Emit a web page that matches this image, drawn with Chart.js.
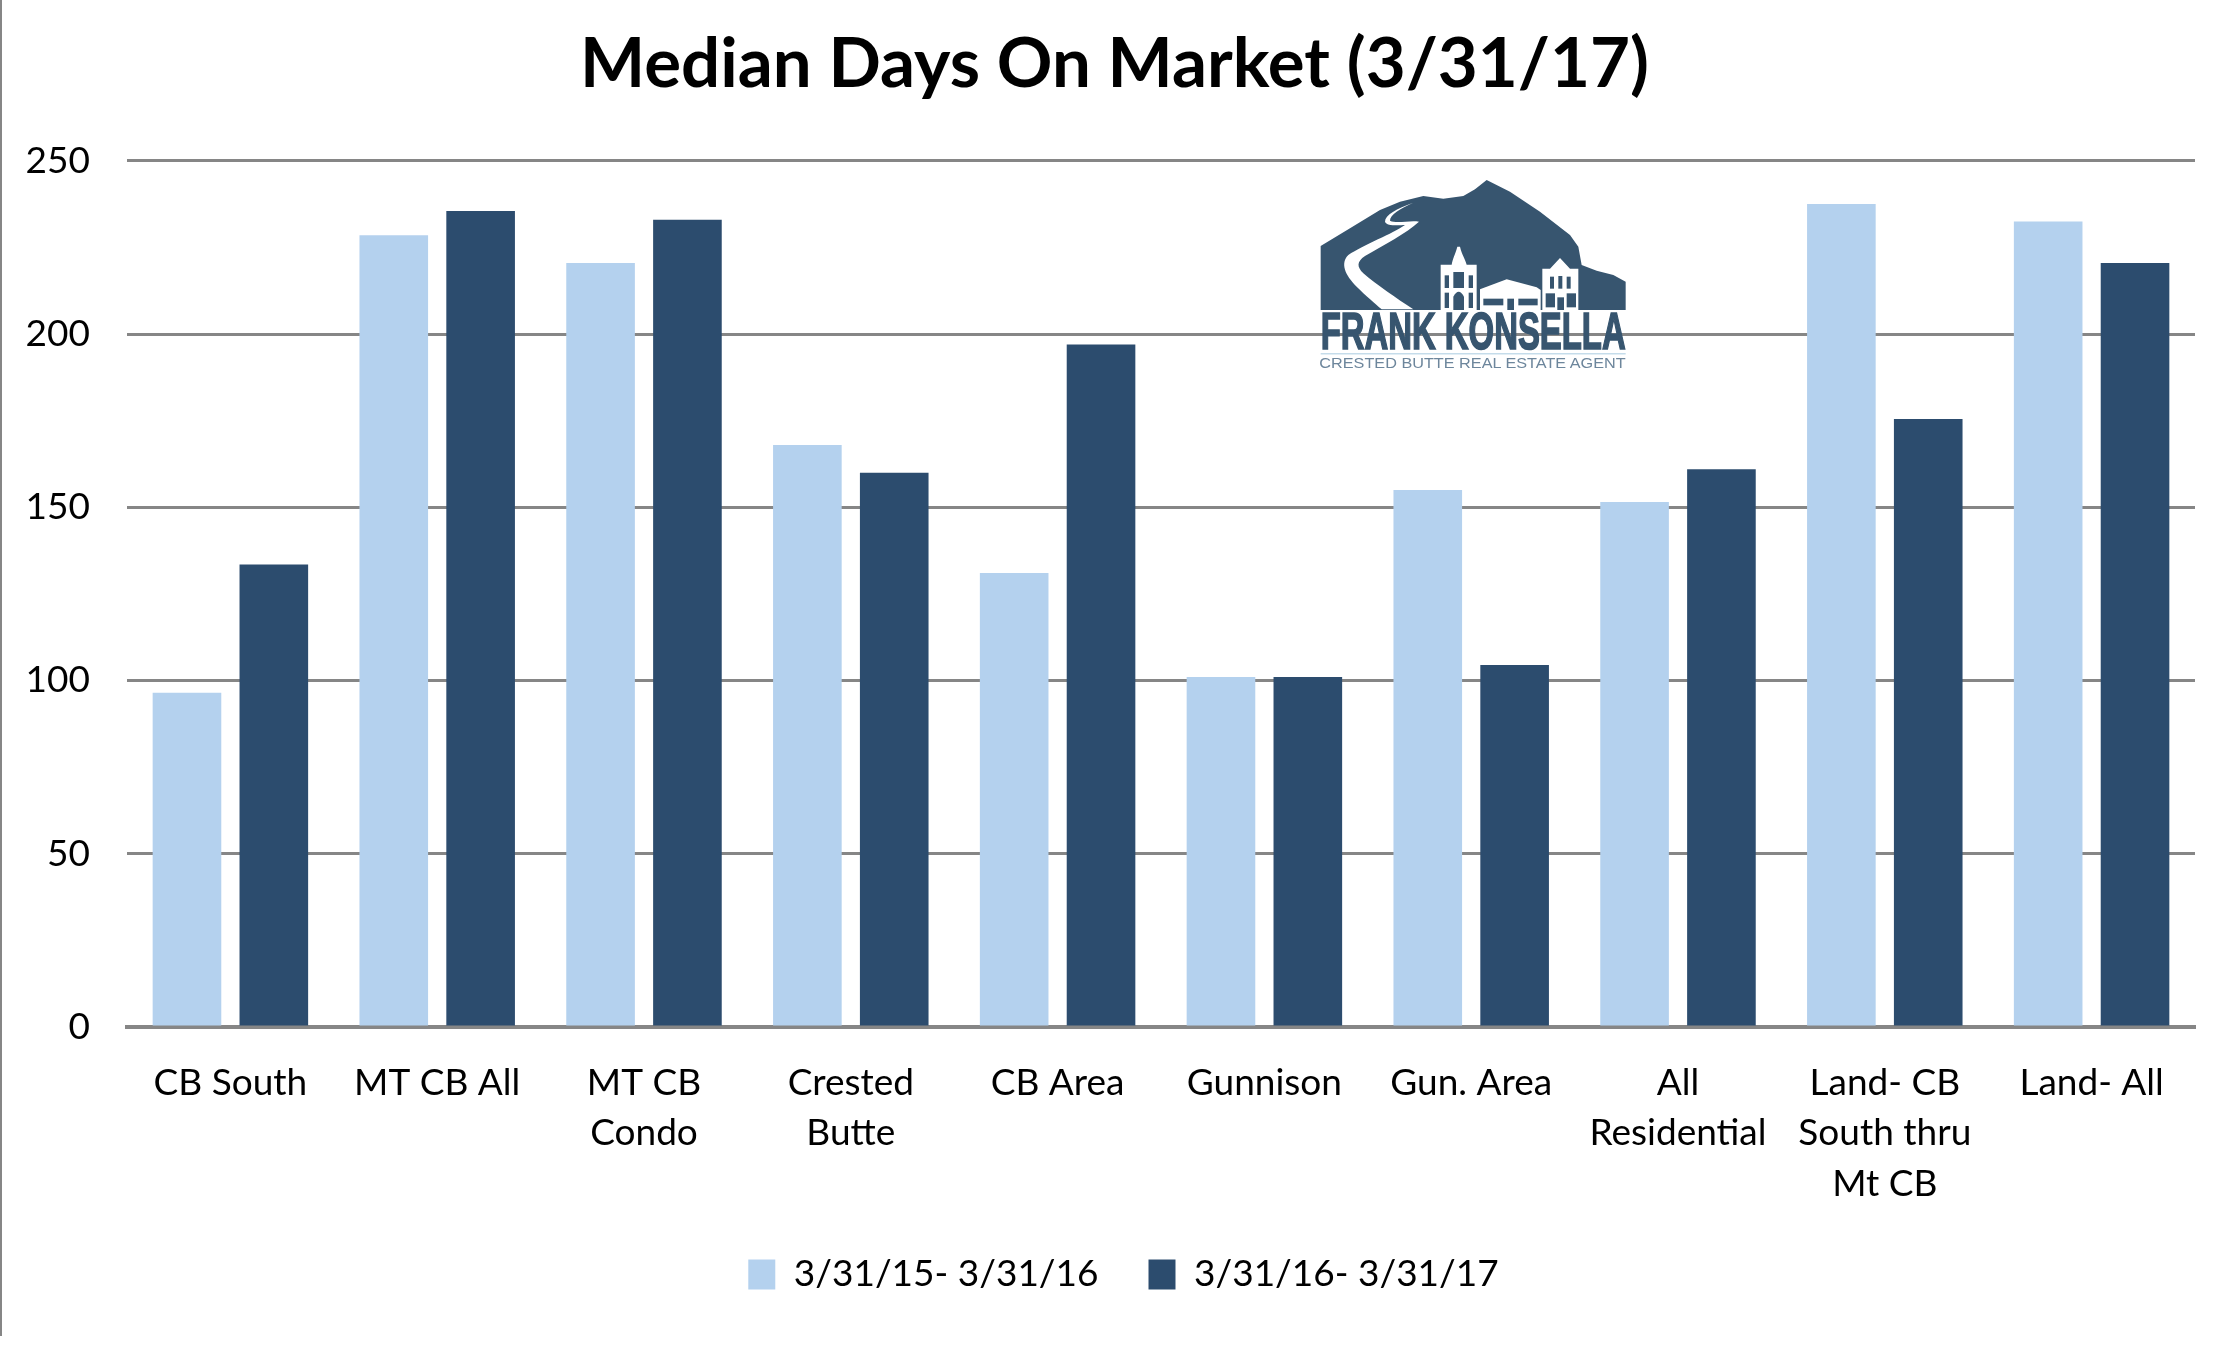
<!DOCTYPE html>
<html>
<head>
<meta charset="utf-8">
<title>Median Days On Market</title>
<script src="https://cdn.jsdelivr.net/npm/chart.js@4"></script>
<style>
  html, body { margin: 0; padding: 0; background: #fff; }
  #wrap { position: relative; width: 2229px; height: 1350px; overflow: hidden; }
  #edge { position: absolute; left: 0; top: 0; width: 2px; height: 1336px; background: #868686; }
  #logo { position: absolute; left: 1250px; top: 150px; width: 420px; height: 250px; }
</style>
</head>
<body>
<div id="wrap">
  <canvas id="chart" width="2229" height="1350"></canvas>
  <div id="edge"></div>
  <svg id="logo" viewBox="0 0 1260 750">
    <path fill="#37556f" d="M212 288 L300 235 L390 180 L450 155 L520 138 L580 146 L640 138 L675 118 L710 90 L780 125 L870 185 L960 255 L985 290 L995 345 L1040 362 L1090 375 L1127 395 L1127 480 L212 480 Z"/>
    <path fill="#fff" d="M490 158 C440 175 405 195 405 215 C410 230 450 225 465 225 C430 250 340 285 295 315 C270 340 285 375 320 410 C350 440 375 460 395 478 L490 478 C440 445 380 405 340 370 C320 350 320 335 345 318 C400 285 470 250 507 215 C480 210 440 222 420 212 C420 195 450 175 490 158 Z"/>
    <g fill="#fff">
      <path d="M572 480 V344 H605 C608 325 615 315 622 290 H630 C636 315 645 325 650 344 H680 V480 Z"/>
      <path d="M690 480 V418 L770 388 L860 412 L872 420 V480 Z"/>
      <path d="M877 480 V356 H900 L930 324 L960 356 H985 V480 Z"/>
    </g>
    <g fill="#37556f">
      <rect x="584" y="376" width="13" height="38"/><rect x="610" y="366" width="32" height="48"/><rect x="656" y="376" width="13" height="38"/>
      <rect x="584" y="428" width="13" height="46"/><path d="M610 480 V440 Q626 410 642 440 V480 Z"/><rect x="656" y="428" width="13" height="46"/>
      <rect x="700" y="446" width="60" height="20"/><rect x="805" y="446" width="58" height="20"/><rect x="772" y="446" width="20" height="34"/>
      <rect x="900" y="380" width="12" height="36"/><rect x="925" y="378" width="12" height="38"/><rect x="950" y="380" width="12" height="36"/>
      <rect x="887" y="430" width="28" height="42"/><rect x="922" y="442" width="20" height="38"/><rect x="950" y="430" width="28" height="42"/>
    </g>
    <text x="212" y="598" fill="#37556f" stroke="#37556f" stroke-width="5" font-family="Liberation Sans" font-weight="700" font-size="156" textLength="915" lengthAdjust="spacingAndGlyphs">FRANK KONSELLA</text>
    <rect x="212" y="610" width="915" height="3" fill="#a9cbe0"/>
    <text x="208" y="655" fill="#6d869c" font-family="Liberation Sans" font-size="46" textLength="919" lengthAdjust="spacingAndGlyphs">CRESTED BUTTE REAL ESTATE AGENT</text>
  </svg>
</div>
<script>
const categories = ['CB South', 'MT CB All', ['MT CB', 'Condo'], ['Crested', 'Butte'], 'CB Area', 'Gunnison', 'Gun. Area',
  ['All', 'Residential'], ['Land- CB', 'South thru', 'Mt CB'], 'Land- All'];
const seriesNames = ['3/31/15- 3/31/16', '3/31/16- 3/31/17'];
const prevYear = [96.5, 228.5, 220.5, 168, 131, 101, 155, 151.5, 237.5, 232.5];
const currYear = [133.5, 235.5, 233, 160, 197, 101, 104.5, 161, 175.5, 220.5];
const yTicks = [0, 50, 100, 150, 200, 250];

const LABEL_FONT = { family: 'Lato', size: 37 };

// title and legend sit off the plot centre in the original, so slide them over after layout
const nudgeBoxes = {
  id: 'nudgeBoxes',
  afterLayout(chart) {
    chart.titleBlock.left += 17;
    chart.titleBlock.right += 17;
    chart.legend.left += 26;
    chart.legend.right += 26;
  },
};

new Chart(document.getElementById('chart').getContext('2d'), {
  type: 'bar',
  plugins: [nudgeBoxes],
  data: {
    labels: categories,
    datasets: [
      { label: seriesNames[0], data: prevYear, backgroundColor: '#b4d1ee' },
      { label: seriesNames[1], data: currYear, backgroundColor: '#2c4c6e' },
    ],
  },
  options: {
    responsive: false,
    animation: false,
    layout: { padding: { left: 0, right: 34, top: 0, bottom: 47 } },
    datasets: { bar: { categoryPercentage: 0.84, barPercentage: 0.79 } },
    plugins: {
      title: {
        display: true,
        text: 'Median Days On Market (3/31/17)',
        color: '#000',
        font: { family: 'Lato', size: 69, weight: 'bold', lineHeight: 1.2 },
        padding: { top: 23, bottom: 55 },
      },
      legend: {
        position: 'bottom',
        labels: { color: '#000', font: LABEL_FONT, boxWidth: 27, boxHeight: 30, padding: 50 },
      },
      tooltip: { enabled: false },
    },
    scales: {
      x: {
        grid: { display: false, drawTicks: false },
        border: { color: '#868686', width: 4 },
        ticks: { color: '#000', font: { ...LABEL_FONT, lineHeight: 1.36 }, padding: 31, maxRotation: 0, autoSkip: false },
        afterFit: s => { s.height = 179; },
      },
      y: {
        min: 0,
        max: 250,
        afterBuildTicks: s => { s.ticks = yTicks.map(v => ({ value: v })); },
        grid: { color: '#868686', lineWidth: 3, drawTicks: false },
        border: { display: false },
        ticks: { color: '#000', font: LABEL_FONT, padding: 37 },
        afterFit: s => { s.width = 127; },
      },
    },
  },
});
</script>
</body>
</html>
